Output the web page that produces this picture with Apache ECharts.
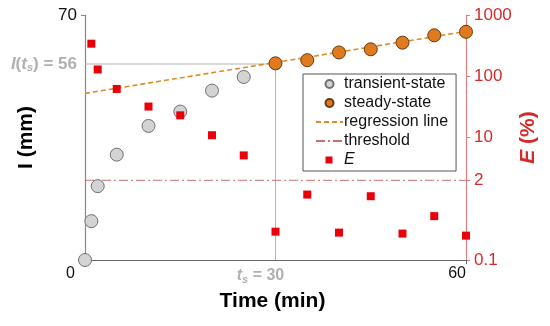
<!DOCTYPE html>
<html><head><meta charset="utf-8">
<script src="https://cdn.jsdelivr.net/npm/echarts@6/dist/echarts.min.js"></script>
<style>html,body{margin:0;padding:0;background:#fff}#c{width:550px;height:326px}</style>
</head><body><div id="c"></div>
<script>
// ---- data ----
const transientT = [0, 1, 2, 5, 10, 15, 20, 25];
const transientI = [0, 11.1, 21.1, 30.1, 38.3, 42.4, 48.4, 52.3];
const steadyT = [30, 35, 40, 45, 50, 55, 60];
const steadyI = [56.2, 57.1, 59.3, 60.2, 62.1, 64.2, 65.2];
const regressionT = [0, 60];
const regressionI = [47.6, 65.3];
const eT = [1, 2, 5, 10, 15, 20, 25, 30, 35, 40, 45, 50, 55, 60];
const eVal = [340, 129, 62, 32, 23, 10.9, 5.1, 0.29, 1.17, 0.28, 1.1, 0.27, 0.52, 0.25];
const thresholdE = 2;
const tsVal = 30, ItsVal = 56;
const xTicks = [0, 30, 60];
const leftTicks = [56, 70];
const rightTicks = [0.1, 2, 10, 100, 1000];

const FONT = "'Liberation Sans', Arial, sans-serif";
const zip = (a, b) => a.map((v, i) => [v, b[i]]);
const lg = v => Math.log10(v);
const hiddenSym = {color: 'rgba(0,0,0,0)', borderWidth: 0, borderColor: 'rgba(0,0,0,0)'};

const chart = echarts.init(document.getElementById('c'), null, {renderer: 'canvas'});
chart.setOption({
  animation: false,
  backgroundColor: '#fff',
  textStyle: {fontFamily: FONT},
  grid: {left: 85, right: 84, top: 15, bottom: 66, outerBoundsMode: 'none', containLabel: false},
  legend: {
    orient: 'vertical', left: 303, top: 74,
    itemWidth: 27, itemHeight: 8, itemGap: 3,
    padding: [2, 8, 3, 12],
    borderColor: '#555', borderWidth: 1, backgroundColor: '#fff',
    textStyle: {fontFamily: FONT, fontSize: 16, color: '#111', padding: [0,0,0,-4],
      rich: {it: {fontStyle: 'italic', fontSize: 16, fontFamily: FONT, color: '#111'}}},
    formatter: n => n === 'E' ? '{it|E}' : n,
    data: [
      {name: 'transient-state', icon: 'circle'},
      {name: 'steady-state', icon: 'circle'},
      {name: 'regression line', itemStyle: hiddenSym},
      {name: 'threshold', itemStyle: hiddenSym},
      {name: 'E', icon: 'path://M0,0L0,0M9.5,0.5L16.5,0.5L16.5,7.5L9.5,7.5Z M27,8L27,8'}
    ]
  },
  xAxis: {
    type: 'value', min: 0, max: 60,
    name: 'Time (min)', nameLocation: 'middle', nameGap: 31, nameMoveOverlap: false,
    nameTextStyle: {fontFamily: FONT, fontSize: 21, fontWeight: 'bold', color: '#000', padding: [0, 6, 0, 0]},
    axisLine: {lineStyle: {color: '#666', width: 1.2}},
    axisTick: {show: true, length: 4, customValues: [60], lineStyle: {color: '#666'}},
    splitLine: {show: false},
    axisLabel: {
      customValues: xTicks, margin: 6, fontSize: 16, color: '#111',
      alignMinLabel: 'right', alignMaxLabel: 'right',
      formatter: v => v === 0 ? '{z|0}' : (v === tsVal ? '{it|t}{sub|s}{g| = ' + v + '}' : String(v)),
      rich: {
        z: {fontSize: 16, color: '#111', padding: [0, 10, 0, 0]},
        it: {fontSize: 16, color: '#b0b0b0', fontStyle: 'italic', fontWeight: 'bold'},
        sub: {fontSize: 11, color: '#b0b0b0', fontStyle: 'italic', fontWeight: 'bold', padding: [8, 0, 0, 0]},
        g: {fontSize: 16, color: '#b0b0b0', fontWeight: 'bold', padding: [0, 30, 0, 0]}
      }
    }
  },
  yAxis: [{
    type: 'value', min: 0, max: 70,
    name: 'I (mm)', nameLocation: 'middle', nameGap: 48, nameRotate: 90, nameMoveOverlap: false,
    nameTextStyle: {fontFamily: FONT, fontSize: 21, fontWeight: 'bold', color: '#000'},
    axisLine: {show: true, lineStyle: {color: '#888', width: 1.2}},
    axisTick: {show: true, length: 4, customValues: [70], lineStyle: {color: '#888'}},
    splitLine: {show: false},
    axisLabel: {
      customValues: leftTicks, margin: 8, fontSize: 17, color: '#111',
      formatter: v => v === ItsVal ? '{it|I}{g|(}{it|t}{sub|s}{g|) = ' + v + '}' : String(v),
      rich: {
        it: {fontSize: 17, color: '#b0b0b0', fontStyle: 'italic', fontWeight: 'bold'},
        sub: {fontSize: 11, color: '#b0b0b0', fontStyle: 'italic', fontWeight: 'bold', padding: [8, 0, 0, 0]},
        g: {fontSize: 17, color: '#b0b0b0', fontWeight: 'bold'}
      }
    }
  }, {
    type: 'value', min: -1, max: 3, position: 'right',
    name: '{it|E} (%)', nameLocation: 'middle', nameGap: 52, nameRotate: 90, nameMoveOverlap: false,
    nameTextStyle: {fontFamily: FONT, fontSize: 21, fontWeight: 'bold', color: '#d42a2a',
      rich: {it: {fontFamily: FONT, fontSize: 21, fontWeight: 'bold', fontStyle: 'italic', color: '#d42a2a'}}},
    axisLine: {show: true, lineStyle: {color: '#d98080', width: 1.2}},
    axisTick: {show: true, length: 4, customValues: rightTicks.map(lg), lineStyle: {color: '#d98080'}},
    splitLine: {show: false},
    axisLabel: {
      customValues: rightTicks.map(lg), margin: 8, fontSize: 17, color: '#d42a2a',
      formatter: v => { const r = Math.pow(10, v); return r < 1 ? r.toFixed(1) : String(Math.round(r)); }
    }
  }],
  series: [
    {
      name: 'ref', type: 'line', silent: true, symbol: 'none', z: 1,
      lineStyle: {color: '#b5b5b5', width: 1},
      data: [[0, ItsVal], [tsVal, ItsVal], [tsVal, 0]]
    },
    {
      name: 'threshold', type: 'line', yAxisIndex: 1, symbol: 'none', z: 1,
      lineStyle: {color: '#c97070', width: 1, type: [9, 3, 2, 3]},
      itemStyle: {color: '#c97070'},
      data: [[0, lg(thresholdE)], [60, lg(thresholdE)]]
    },
    {
      name: 'regression line', type: 'line', symbol: 'none', z: 2,
      lineStyle: {color: '#e08a2a', width: 1.6, type: [5, 3]},
      itemStyle: {color: '#e08a2a'},
      data: zip(regressionT, regressionI)
    },
    {
      name: 'transient-state', type: 'scatter', symbol: 'circle', symbolSize: 13, z: 3,
      itemStyle: {color: '#d3d3d3', borderColor: '#707070', borderWidth: 1, opacity: 1},
      data: zip(transientT, transientI)
    },
    {
      name: 'steady-state', type: 'scatter', symbol: 'circle', symbolSize: 13, z: 3,
      itemStyle: {color: '#e07a1f', borderColor: '#6b3a10', borderWidth: 1, opacity: 1},
      data: zip(steadyT, steadyI)
    },
    {
      name: 'E', type: 'scatter', yAxisIndex: 1, symbol: 'rect', symbolSize: 8, z: 4,
      itemStyle: {color: '#e8000b', opacity: 1},
      data: eT.map((t, i) => [t, lg(eVal[i])])
    }
  ]
});
</script>
</body></html>
